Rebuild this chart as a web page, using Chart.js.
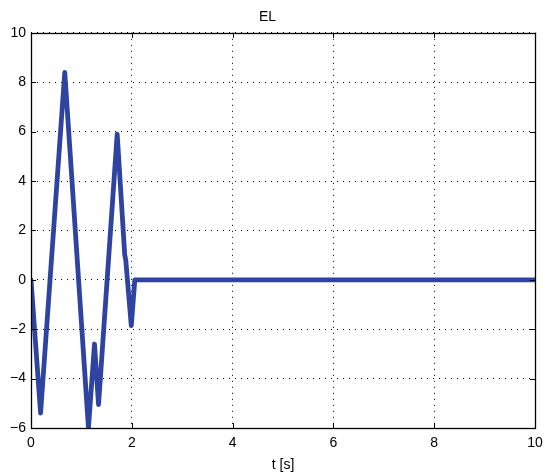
<!DOCTYPE html>
<html>
<head>
<meta charset="utf-8">
<script src="https://cdn.jsdelivr.net/npm/chart.js@4/dist/chart.umd.min.js"></script>
<style>
  html, body { margin: 0; padding: 0; background: #fff; }
  #wrap { width: 549px; height: 474px; }
</style>
</head>
<body>
<div id="wrap"><canvas id="myChart" width="549" height="474"></canvas></div>
<script>
// time samples (s) and EL values
const tValues = [0, 0.19, 0.67, 1.14, 1.26, 1.34, 1.71, 1.86, 1.88, 1.99, 2.06, 10];
const elValues = [0, -5.4, 8.4, -6.0, -2.6, -5.05, 5.9, 1.0, 0.8, -1.85, 0, 0];

const xTicks = [0, 2, 4, 6, 8, 10];
const yTicks = [-6, -4, -2, 0, 2, 4, 6, 8, 10];

const fontFamily = '"Liberation Sans", Arial, Helvetica, sans-serif';

// box around the plot area plus inward tick marks on all four sides
const boxPlugin = {
  id: 'box',
  afterDraw(chart) {
    const { ctx, chartArea: a, scales } = chart;
    ctx.save();
    ctx.strokeStyle = '#000';
    ctx.lineWidth = 1;
    ctx.beginPath();
    xTicks.forEach(v => {
      const x = Math.round(scales.x.getPixelForValue(v)) + 0.5;
      ctx.moveTo(x, a.bottom); ctx.lineTo(x, a.bottom - 5);
      ctx.moveTo(x, a.top); ctx.lineTo(x, a.top + 5);
    });
    yTicks.forEach(v => {
      const y = Math.round(scales.y.getPixelForValue(v)) + 0.5;
      ctx.moveTo(a.left, y); ctx.lineTo(a.left + 5, y);
      ctx.moveTo(a.right, y); ctx.lineTo(a.right - 5, y);
    });
    ctx.stroke();
    ctx.lineWidth = 1.3;
    ctx.strokeRect(Math.round(a.left) + 0.5, Math.round(a.top) + 0.5,
      Math.round(a.right - a.left), Math.round(a.bottom - a.top));
    ctx.restore();
  }
};

const minus = v => String(v).replace('-', '\u2212');

const chartContext = document.getElementById('myChart').getContext('2d');

const chart = new Chart(chartContext, {
  type: 'line',
  data: {
    datasets: [{
      label: 'EL',
      data: tValues.map((t, i) => ({ x: t, y: elValues[i] })),
      borderColor: 'rgb(47, 68, 160)',
      borderWidth: 4.8,
      pointRadius: 0,
      tension: 0,
      fill: false,
      borderJoinStyle: 'round',
      borderCapStyle: 'round'
    }]
  },
  options: {
    responsive: false,
    animation: false,
    layout: { padding: { left: 0, right: 14, top: 0, bottom: 0 } },
    plugins: {
      legend: { display: false },
      tooltip: { enabled: false },
      title: {
        display: true,
        text: 'EL',
        color: '#000',
        font: { family: fontFamily, size: 14, weight: 'normal' },
        padding: { top: 9, bottom: 7 }
      }
    },
    scales: {
      x: {
        type: 'linear',
        min: 0,
        max: 10,
        afterBuildTicks: s => { s.ticks = xTicks.map(v => ({ value: v })); },
        afterFit: s => { s.height = 46; s.paddingLeft = 0; s.paddingRight = 0; },
        ticks: {
          color: '#000',
          padding: 7,
          maxRotation: 0,
          font: { family: fontFamily, size: 14 },
          callback: v => minus(v)
        },
        grid: { color: '#000', lineWidth: 1, drawTicks: false },
        border: { display: false, dash: [1, 5] },
        title: {
          display: true,
          text: 't [s]',
          color: '#000',
          font: { family: fontFamily, size: 14 },
          padding: { top: 0, bottom: 0 }
        }
      },
      y: {
        type: 'linear',
        min: -6,
        max: 10,
        afterBuildTicks: s => { s.ticks = yTicks.map(v => ({ value: v })); },
        afterFit: s => { s.width = 31; s.paddingTop = 0; s.paddingBottom = 0; },
        ticks: {
          color: '#000',
          padding: 5,
          font: { family: fontFamily, size: 14 },
          callback: v => minus(v)
        },
        grid: { color: '#000', lineWidth: 1, drawTicks: false },
        border: { display: false, dash: [1, 5] }
      }
    }
  },
  plugins: [boxPlugin]
});
</script>
</body>
</html>
